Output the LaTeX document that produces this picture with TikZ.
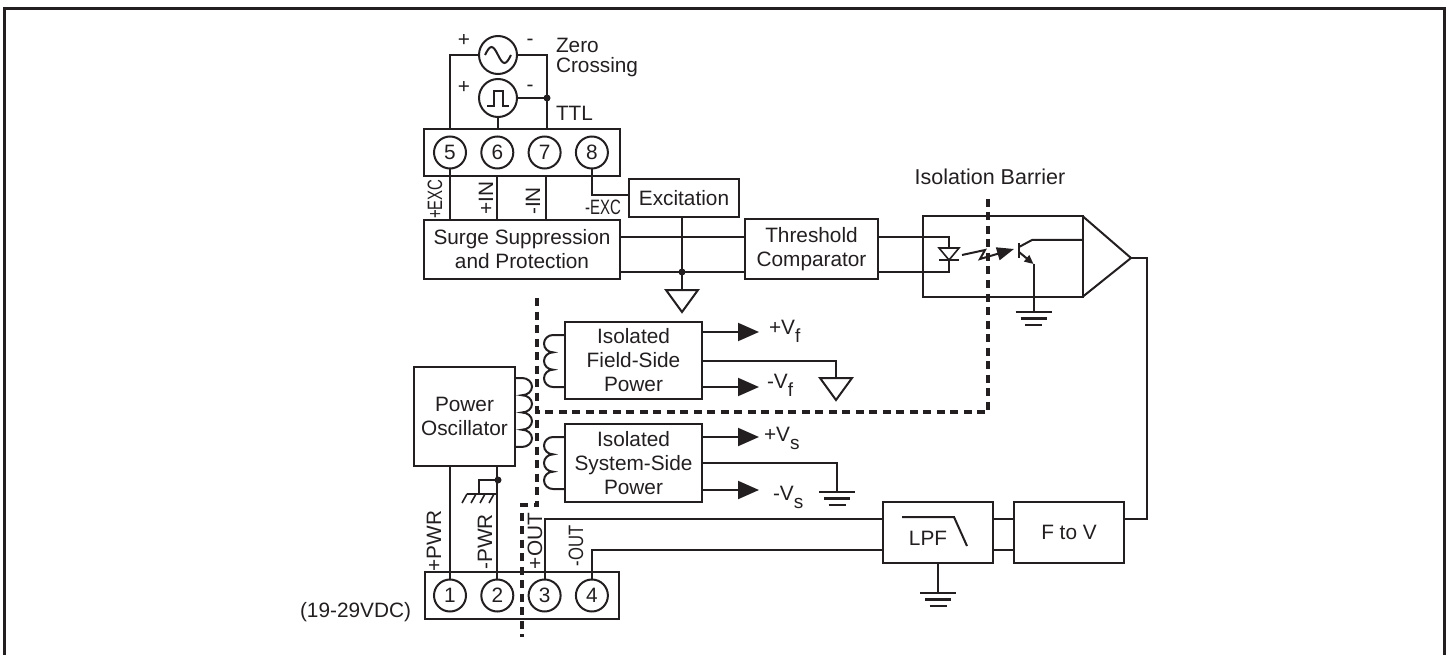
\documentclass[tikz,border=0pt]{standalone}
\usepackage{fontspec}
\setmainfont{Liberation Sans}
\usepackage{xcolor}
\usepackage{tikz}
\usetikzlibrary{positioning, calc, arrows.meta}
\definecolor{ink}{HTML}{231F20}
\newcommand{\blockfont}{\fontsize{20.8}{24}\selectfont}
\newcommand{\subscr}[1]{\raisebox{-8pt}{\fontsize{19}{19}\selectfont #1}}
\newcommand{\narrow}[1]{\scalebox{0.72}[1]{#1}}

\tikzset{
  earth/.pic = {
    \draw [line width = 2.6pt, ink] (-18,0) -- (18,0);
    \draw [line width = 2.6pt, ink] (-13,6.5) -- (13,6.5);
    \draw [line width = 2.6pt, ink] (-8.5,13) -- (8.5,13);
  },
  floating/.pic = {
    \draw [line width = 2pt, ink] (-16,0) -- (16,0) -- (0,22) -- cycle;
  },
  chassis/.pic = {
    \draw [line width = 2pt, ink] (-12,0) -- (17,0);
    \foreach \i in {-12, -3, 6, 15}
    \draw [line width = 1.6pt, ink] (\i,0) -- ++(-5,9);
  },
}

\begin{document}
\begin{tikzpicture}[
    auto, > = latex, align=center, x = 1pt, y = -1pt,
    every node/.style = {
      font = \blockfont, text = ink, outer sep = 0pt
    },
    block/.style = {
      rectangle, draw = ink, line width = 2pt, inner sep = 0pt
    },
    term/.style = {
      circle, draw = ink, line width = 2pt, inner sep = 0pt, minimum size = 32pt
    },
    source/.style = {
      circle, draw = ink, line width = 2pt, inner sep = 0pt, minimum size = 38pt
    },
    dot/.style = {
      circle, fill = ink, inner sep = 0pt, minimum size = 7pt
    },
    lbl/.style = {
      inner sep = 0pt
    },
    vlbl/.style = {
      inner sep = 0pt, rotate = 90
    },
    wire/.style = {
      draw = ink, line width = 2pt
    },
    feed/.style = {
      wire, -{Triangle[length = 21pt, width = 18pt]}
    },
    barrier/.style = {
      draw = ink, line width = 3.4pt, dash pattern = on 8pt off 5.5pt
    },
    lobeR/.style = {
      x radius = 10pt, y radius = 8.62pt, start angle = 90, end angle = -90
    },
    lobeL/.style = {
      x radius = 9pt, y radius = 8.67pt, start angle = 90, end angle = 270
    },
    ]

    \useasboundingbox (0,0) rectangle (1449,655);

    % draw frame
    \draw [ink, line width = 3pt] (4.5,655) -- (4.5,9) -- (1444,9) -- (1444,655);

    % draw blocks
    \node  [block, minimum width = 196pt, minimum height = 59pt]  (surge)  at (522,249.5)  {Surge Suppression\\and Protection};
    \node  [block, minimum width = 196pt, minimum height = 47pt]  (tblock)  [above = 44pt of surge]  {};
    \node  [block, minimum width = 110pt, minimum height = 38pt]  (excite)  at (684,198)  {Excitation};
    \node  [block, minimum width = 133pt, minimum height = 60pt]  (thresh)  [right = 125pt of surge]  {Threshold\\Comparator};
    \node  [block, minimum width = 160pt, minimum height = 80pt]  (opto)  [right = 45pt of thresh, yshift = -7pt]  {};
    \node  [block, minimum width = 137pt, minimum height = 77pt]  (field)  at (633.5,360.5)  {Isolated\\Field-Side\\Power};
    \node  [block, minimum width = 137pt, minimum height = 78pt]  (system)  [below = 25pt of field]  {Isolated\\System-Side\\Power};
    \node  [block, minimum width = 101pt, minimum height = 99pt]  (posc)  at (464.5,416.5)  {Power\\Oscillator};
    \node  [block, minimum width = 194pt, minimum height = 47pt]  (bblock)  at (522,595.5)  {};
    \node  [block, minimum width = 110pt, minimum height = 61pt]  (lpf)  at (938,532.5)  {};
    \node  [block, minimum width = 110pt, minimum height = 61pt]  (ftov)  [right = 21pt of lpf]  {F to V};
    \node  [lbl]  (lpftxt)  at (928,538)  {LPF};

    % draw terminals
    \node  [term]  (t5)  at (450,152.5)  {5};
    \foreach \i [remember = \i as \lasti (initially 5)] in {6, ..., 8}
    \node  [term]  (t\i)  [right = 15.3pt of t\lasti]  {\i};

    \node  [term]  (t1)  at (450,595.5)  {1};
    \foreach \i [remember = \i as \lasti (initially 1)] in {2, ..., 4}
    \node  [term]  (t\i)  [right = 15.3pt of t\lasti]  {\i};

    % draw sources
    \node  [source]  (acs)  at (498,55)  {};
    \node  [source]  (ttl)  [below = 5pt of acs]  {};
    \draw  [wire]  (485,55) sin (491.5,47) cos (498,55) sin (504.5,63) cos (511,55);
    \draw  [wire]  (487,106) -- (494,106) -- (494,91) -- (503,91) -- (503,106) -- (509,106);

    % draw junctions and free ends
    \node  [dot]  (jttl)  at (547,98)  {};
    \node  [dot]  (jexc)  at (682,272)  {};
    \node  [dot]  (jpwr)  at (498,480)  {};
    \coordinate  (j7)  at (547,129);
    \coordinate  (gexc)  at (682,290);
    \coordinate  (gfield)  at (836,378);
    \coordinate  (gsys)  at (837,492);
    \coordinate  (gopto)  at (1033.5,312);
    \coordinate  (glpf)  at (938,593);
    \coordinate  (gchas)  at (479,494);
    \coordinate  (vfp)  at (759,332);
    \coordinate  (vfn)  at (759,387);
    \coordinate  (vsp)  at (759,437);
    \coordinate  (vsn)  at (759,490);
    \coordinate  (dtop)  at (949,248);
    \coordinate  (dbot)  at (949,260);
    \coordinate  (qhead)  at (1014,249);
    \coordinate  (qcol)  at (1032,240);
    \coordinate  (qemi)  at (1033.5,264);
    \coordinate  (amptip)  at (1131,258);
    \coordinate  (bend)  at (1147,258);
    \coordinate  (litea)  at (962,255);
    \coordinate  (liteb)  at (985,250);
    \coordinate  (litec)  at (980,259);
    \coordinate  (bara)  at (988,199);
    \coordinate  (barb)  at (988,412);
    \coordinate  (barc)  at (537,412);
    \coordinate  (bard)  at (537,298);
    \coordinate  (bare)  at (537,505);
    \coordinate  (barf)  at (522,505);
    \coordinate  (barg)  at (522,637);

    % draw isolation barrier
    \draw  [barrier]  (bara) -- (barb) -- (barc);
    \draw  [barrier]  (bard) -- (bare) -- (barf) -- (barg);

    % draw upper paths
    \draw  [wire]  (acs.west) -| (t5 |- tblock.north);
    \draw  [wire]  (acs.east) -| (j7);
    \draw  [wire]  (ttl.east) -- (jttl);
    \draw  [wire]  (ttl.south) -- (ttl |- tblock.north);
    \draw  [wire]  (t5.south) -- (t5 |- surge.north);
    \draw  [wire]  (t6 |- tblock.south) -- (t6 |- surge.north);
    \draw  [wire]  ([xshift = 1.5pt]t7 |- tblock.south) -- ([xshift = 1.5pt]t7 |- surge.north);
    \draw  [wire]  (t8.south) |- ([yshift = 3pt]excite.west);
    \draw  [wire]  (jexc |- excite.south) -- (gexc);
    \draw  [wire]  ([yshift = 12.5pt]surge.east) -- ([yshift = 12.5pt]thresh.west);
    \draw  [wire]  ([yshift = -22.5pt]surge.east) -- ([yshift = -22.5pt]thresh.west);
    \pic  at (gexc)  {floating};

    % draw opto coupler
    \draw  [wire]  ([yshift = 12.5pt]thresh.east) -| (dtop);
    \draw  [wire]  ([yshift = -22.5pt]thresh.east) -| (dbot);
    \draw  [wire, line width = 1.6pt]  (939,248) -- (959,248) -- (949,260) -- cycle;
    \draw  [wire, line width = 1.6pt]  (939,260) -- (959,260);
    \draw  [wire, -{Triangle[length = 17pt, width = 13pt]}]  (litea) -- (liteb) -- (litec) -- (qhead);
    \draw  [wire, line width = 2.4pt]  (1019,243) -- (1019,258);
    \draw  [wire]  (1019,247) -- (qcol) -- (qcol -| opto.east);
    \draw  [wire, -{Triangle[length = 9pt, width = 8pt]}]  (1019,252) -- (qemi);
    \draw  [wire]  (qemi) -- (gopto);
    \pic  at (gopto)  {earth};
    \draw  [block]  (opto.north east) -- (amptip) -- (opto.south east);
    \draw  [wire]  (amptip) -- (bend) |- ([yshift = 13.5pt]ftov.east);

    % draw power paths
    \draw  [wire]  (posc.east |- 0,378) -- ++(7pt,0pt) arc[lobeR] arc[lobeR] arc[lobeR] arc[lobeR] -- ++(-7pt,0pt);
    \draw  [wire]  (field.west |- 0,335) -- ++(-12pt,0pt) arc[lobeL] arc[lobeL] arc[lobeL] -- ++(12pt,0pt);
    \draw  [wire]  (system.west |- 0,437) -- ++(-12pt,0pt) arc[lobeL] arc[lobeL] arc[lobeL] -- ++(12pt,0pt);
    \draw  [feed]  (field.east |- vfp) -- (vfp);
    \draw  [feed]  (field.east |- vfn) -- (vfn);
    \draw  [feed]  (system.east |- vsp) -- (vsp);
    \draw  [feed]  (system.east |- vsn) -- (vsn);
    \draw  [wire]  (field.east) -| (gfield);
    \draw  [wire]  (system.east) -| (gsys);
    \pic  at (gfield)  {floating};
    \pic  at (gsys)  {earth};

    % draw lower paths
    \draw  [wire]  (t1.north) -- (t1 |- posc.south);
    \draw  [wire]  (t2.north) -- (t2 |- posc.south);
    \draw  [wire]  (jpwr) -| (gchas);
    \pic  at (gchas)  {chassis};
    \draw  [wire]  (t3.north) |- ([yshift = 13.5pt]lpf.west);
    \draw  [wire]  (t4.north) |- ([yshift = -17.5pt]lpf.west);
    \draw  [wire]  ([yshift = 13.5pt]lpf.east) -- ([yshift = 13.5pt]ftov.west);
    \draw  [wire]  ([yshift = -17.5pt]lpf.east) -- ([yshift = -17.5pt]ftov.west);
    \draw  [wire]  (lpf.south) -- (glpf);
    \pic  at (glpf)  {earth};
    \draw  [wire]  (902,517) -- (954,517) -- (967,546);

    % draw labels
    \node  [lbl]  (plusa)  at (464,41)  {+};
    \node  [lbl]  (minusa)  at (530,42)  {-};
    \node  [lbl]  (plusb)  at (464,87)  {+};
    \node  [lbl]  (minusb)  at (530,88)  {-};
    \node  [lbl, anchor = west]  (zero)  at (556,45)  {Zero};
    \node  [lbl, anchor = west]  (crossing)  at (556,67)  {Crossing};
    \node  [lbl, anchor = west]  (ttltxt)  at (556,113)  {TTL};
    \node  [vlbl]  (pexc)  at (435,199)  {\narrow{+EXC}};
    \node  [vlbl]  (pin)  at (486,198)  {+IN};
    \node  [vlbl]  (min)  at (533,201)  {-IN};
    \node  [lbl]  (mexc)  at (603,207)  {\narrow{-EXC}};
    \node  [vlbl]  (ppwr)  at (434,541)  {+PWR};
    \node  [vlbl]  (mpwr)  at (485,542)  {-PWR};
    \node  [vlbl]  (pout)  at (535,541)  {+OUT};
    \node  [vlbl]  (mout)  at (576,546)  {\scalebox{0.8}[1]{-OUT}};
    \node  [lbl]  (vdc)  at (355.5,612)  {(19-29VDC)};
    \node  [lbl, font = \fontsize{21.5}{24}\selectfont]  (bartxt)  at (990,177)  {Isolation Barrier};
    \node  [lbl, anchor = west]  (vfptxt)  at (769,331)  {+V\subscr{f}};
    \node  [lbl, anchor = west]  (vfntxt)  at (767,385)  {-V\subscr{f}};
    \node  [lbl, anchor = west]  (vsptxt)  at (764,438)  {+V\subscr{s}};
    \node  [lbl, anchor = west]  (vsntxt)  at (773,497)  {-V\subscr{s}};

\end{tikzpicture}
\end{document}
